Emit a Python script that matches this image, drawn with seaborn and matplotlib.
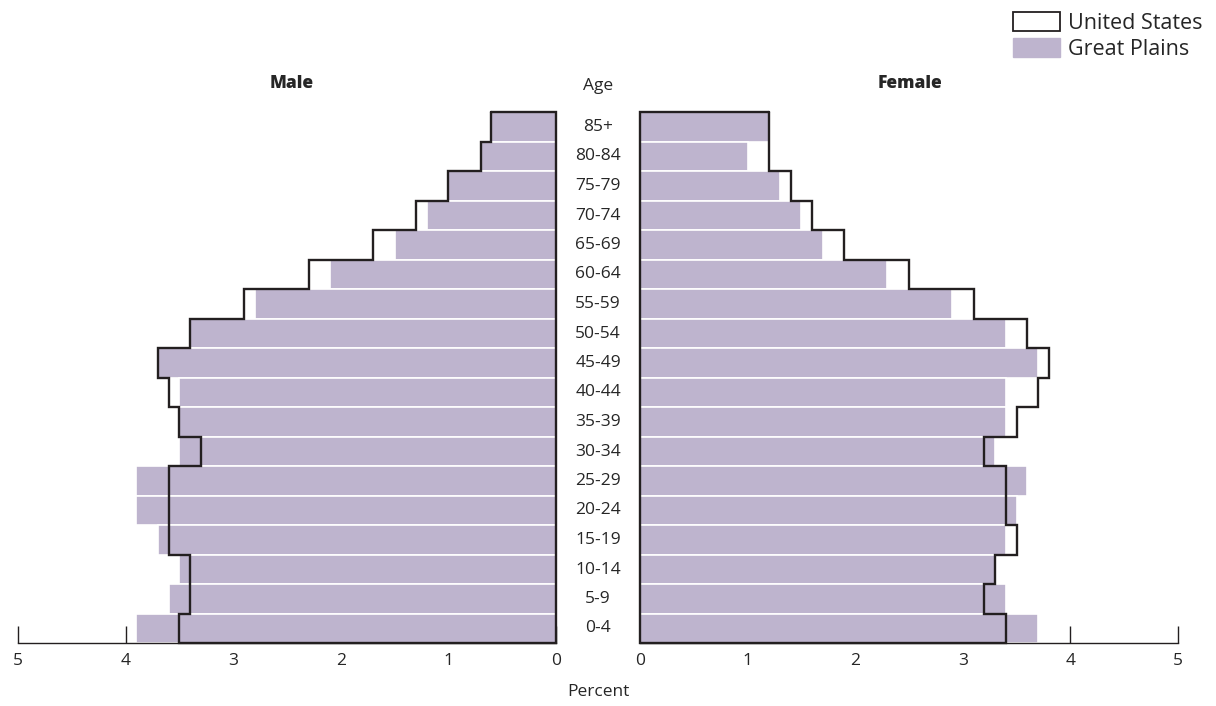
import pandas as pd
import matplotlib.pyplot as plt
import numpy as np
import seaborn as sns
from matplotlib.patches import Patch

ages = ["85+", "80-84", "75-79", "70-74", "65-69", "60-64", "55-59", "50-54", "45-49",
        "40-44", "35-39", "30-34", "25-29", "20-24", "15-19", "10-14", "5-9", "0-4"]
male_plains = [0.6, 0.7, 1.0, 1.2, 1.5, 2.1, 2.8, 3.4, 3.7, 3.5, 3.5, 3.5, 3.9, 3.9, 3.7, 3.5, 3.6, 3.9]
male_us = [0.6, 0.7, 1.0, 1.3, 1.7, 2.3, 2.9, 3.4, 3.7, 3.6, 3.5, 3.3, 3.6, 3.6, 3.6, 3.4, 3.4, 3.5]
female_plains = [1.2, 1.0, 1.3, 1.5, 1.7, 2.3, 2.9, 3.4, 3.7, 3.4, 3.4, 3.3, 3.6, 3.5, 3.4, 3.3, 3.4, 3.7]
female_us = [1.2, 1.2, 1.4, 1.6, 1.9, 2.5, 3.1, 3.6, 3.8, 3.7, 3.5, 3.2, 3.4, 3.4, 3.5, 3.3, 3.2, 3.4]
ticks = [0, 1, 2, 3, 4, 5]

purple = "#beb4ce"
dark = "#231f20"
sns.set_style("white")
plt.rcParams["font.family"] = ["Open Sans", "DejaVu Sans"]

fig = plt.figure(figsize=(12.16, 7.06), dpi=100)
ax_m = fig.add_axes([18 / 1216, 63 / 706, 538 / 1216, 531 / 706])
ax_f = fig.add_axes([640 / 1216, 63 / 706, 538 / 1216, 531 / 706])

df_m = pd.DataFrame({"age": ages, "pct": male_plains})
df_f = pd.DataFrame({"age": ages, "pct": female_plains})


def outline(vals):
    # stepped outline of the US profile, closed along the zero line
    xs, ys = [], []
    for i, v in enumerate(vals):
        xs += [v, v]
        ys += [i - 0.5, i + 0.5]
    xs += [0, 0, vals[0]]
    ys += [len(vals) - 0.5, -0.5, -0.5]
    return xs, ys


for ax, df, us in [(ax_m, df_m, male_us), (ax_f, df_f, female_us)]:
    sns.barplot(data=df, x="pct", y="age", orient="h", color=purple, saturation=1,
                width=1, edgecolor="white", linewidth=1.2, ax=ax)
    xs, ys = outline(us)
    ax.plot(xs, ys, color=dark, lw=1.7, solid_joinstyle="miter", zorder=5, clip_on=False)
    ax.set_ylim(len(ages) - 0.5, -0.5)
    ax.set_ylabel("")
    ax.set_xlabel("")
    ax.set_yticks([])
    for s in ["top", "right", "left"]:
        ax.spines[s].set_visible(False)
    ax.spines["bottom"].set_color(dark)
    ax.spines["bottom"].set_linewidth(1.0)
    ax.set_xticks(ticks)
    ax.set_xticklabels([str(t) for t in ticks], fontsize=12.5)
    ax.tick_params(axis="x", bottom=True, direction="in", length=12, width=1, color=dark, pad=7)
    ax.set_axisbelow(True)
    ax.patch.set_alpha(0)

ax_m.set_xlim(5, 0)
ax_f.set_xlim(0, 5)

for i, a in enumerate(ages):
    fig.text(598 / 1216, 1 - (127 + i * 29.5) / 706, a, ha="center", va="center", fontsize=12.5)

fig.text(598 / 1216, 1 - 86 / 706, "Age", ha="center", va="center", fontsize=12.5)
fig.text(598 / 1216, 1 - 692 / 706, "Percent", ha="center", va="center", fontsize=12.5)
fig.text(292 / 1216, 1 - 84 / 706, "Male", ha="center", va="center", fontsize=12.5, fontweight="heavy")
fig.text(910 / 1216, 1 - 84 / 706, "Female", ha="center", va="center", fontsize=12.5, fontweight="heavy")

handles = [Patch(facecolor="white", edgecolor=dark, linewidth=1.3, label="United States"),
           Patch(facecolor=purple, edgecolor=purple, label="Great Plains")]
fig.legend(handles=handles, loc="upper right", bbox_to_anchor=(0.9986, 1.0), frameon=False,
           fontsize=15.5, handlelength=2.2, handleheight=1.0, handletextpad=0.35,
           labelspacing=0.2, borderaxespad=0.15)

fig.savefig("out.png", dpi=100)
